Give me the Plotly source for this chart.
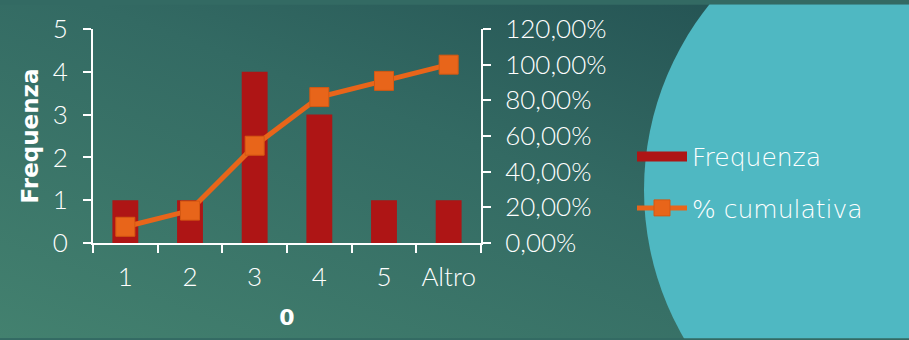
import base64
import plotly.graph_objects as go

# Frequency table and cumulative percentage
classi = ["1", "2", "3", "4", "5", "Altro"]
frequenza = [1, 1, 4, 3, 1, 1]
cumulativa = [0.0909, 0.1818, 0.5455, 0.8182, 0.9091, 1.0]

W, H = 909, 340
ML, MR, MT, MB = 93, 428, 25, 97
PW, PH = W - ML - MR, H - MT - MB

TICK_FONT = "Lato"
TEXT_FONT = "DejaVu Sans"
WHITE = "#FFFFFF"
RED = "#AE1515"
ORANGE = "#E8651A"

# Slide background: diagonal teal gradient with a light circle on the right
svg = f"""<svg xmlns='http://www.w3.org/2000/svg' width='{W}' height='{H}' viewBox='0 0 {W} {H}'>
<defs><linearGradient id='g' x1='0' y1='1' x2='1' y2='0'>
<stop offset='0' stop-color='#43816F'/><stop offset='0.55' stop-color='#336A63'/>
<stop offset='1' stop-color='#214E50'/></linearGradient></defs>
<rect width='{W}' height='{H}' fill='url(#g)'/>
<circle cx='950' cy='189' r='306' fill='#4FB8C2'/>
</svg>"""
bg_uri = "data:image/svg+xml;base64," + base64.b64encode(svg.encode()).decode()

fig = go.Figure()
fig.add_trace(go.Bar(
    x=classi, y=frequenza, name="Frequenza",
    marker=dict(color=RED, line=dict(width=0)),
    width=0.4, showlegend=False,
))
# wide swatch for the bar series in the legend
fig.add_trace(go.Scatter(
    x=[None], y=[None], name="Frequenza", mode="lines",
    line=dict(color=RED, width=15), legendgroup="a",
))
fig.add_trace(go.Scatter(
    x=classi, y=cumulativa, name="% cumulativa", yaxis="y2",
    mode="lines+markers",
    line=dict(color=ORANGE, width=5),
    marker=dict(symbol="square", size=19, color=ORANGE,
                line=dict(color="#D45812", width=1)),
    legendgroup="b",
))

axis_common = dict(
    showline=True, linecolor=WHITE, linewidth=2,
    ticks="outside", tickcolor=WHITE, tickwidth=2, ticklen=8,
    showgrid=False, zeroline=False,
    tickfont=dict(family=TICK_FONT, size=26, color=WHITE, weight=300),
)

fig.update_layout(
    width=W, height=H,
    margin=dict(l=ML, r=MR, t=MT, b=MB, pad=0),
    paper_bgcolor="#336A63", plot_bgcolor="rgba(0,0,0,0)",
    separators=",.",
    images=[dict(
        source=bg_uri, xref="paper", yref="paper",
        x=-ML / PW, y=1 + MT / PH, sizex=W / PW, sizey=H / PH,
        xanchor="left", yanchor="top", sizing="stretch", layer="below",
    )],
    xaxis=dict(
        **axis_common, type="category", tickson="boundaries",
        ticklabelstandoff=10,
        title=dict(text="<b>0</b>", font=dict(family=TEXT_FONT, size=22, color=WHITE),
                   standoff=18),
    ),
    yaxis=dict(
        **axis_common, range=[0, 5], dtick=1, ticklabelstandoff=10,
        title=dict(text="<b>Frequenza</b>", font=dict(family=TEXT_FONT, size=23, color=WHITE),
                   standoff=8),
    ),
    yaxis2=dict(
        **axis_common, overlaying="y", side="right", range=[0, 1.2],
        dtick=0.2, tickformat=".2%", ticklabelstandoff=9,
    ),
    showlegend=True,
    legend=dict(
        x=(632 - ML) / PW, y=(243 - 181) / PH, xanchor="left", yanchor="middle",
        bgcolor="rgba(0,0,0,0)", tracegroupgap=16, itemwidth=50,
        font=dict(family=TEXT_FONT, size=25, color=WHITE, weight=200),
    ),
)

fig.write_html("out.html")
